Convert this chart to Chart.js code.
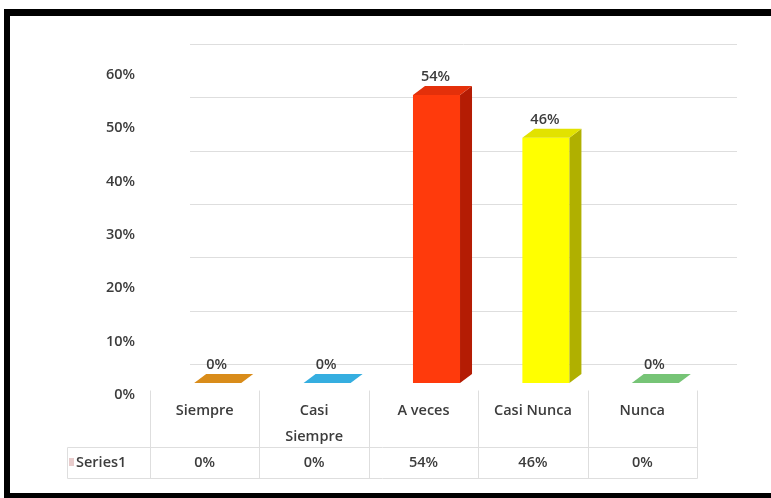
<!DOCTYPE html>
<html>
<head>
<meta charset="utf-8">
<script src="https://cdn.jsdelivr.net/npm/chart.js@4/dist/chart.umd.min.js"></script>
<style>
  html, body { margin: 0; padding: 0; background: #fff; overflow: hidden; }
  #wrap { position: relative; width: 771px; height: 498px; }
  #frame {
    position: absolute; left: 4px; top: 9px; width: 800px; height: 489px;
    box-sizing: border-box; border: solid #000;
    border-width: 7px 7px 5px 6px; pointer-events: none;
  }
</style>
</head>
<body>
<div id="wrap">
  <canvas id="chart" width="771" height="498"></canvas>
  <div id="frame"></div>
</div>
<script>
const categories = ['Siempre', ['Casi', 'Siempre'], 'A veces', 'Casi Nunca', 'Nunca'];
const values = [0, 0, 54, 46, 0];
const seriesName = 'Series1';
const yTicks = [0, 10, 20, 30, 40, 50, 60];

const frontColors = ['#D4820E', '#2CA3D6', '#FF3A0C', '#FFFF00', '#6DBE6D'];
const sideColors = ['#A86408', '#1E7FA8', '#B41C04', '#B0B000', '#4E9A4E'];
const topColors = ['#D98C1A', '#35AEE0', '#E4300A', '#E2E200', '#76C476'];

const textColor = '#3C3C3C';
const lineColor = '#DEDEDE';
const font = '600 14.5px "Open Sans"';
const depthX = 12, depthY = 9;

const pct = v => v + '%';

// extruded faces, value labels, back wall grid and the data table
const box3d = {
  id: 'box3d',
  beforeDatasetsDraw(chart) {
    const ctx = chart.ctx;
    const y = chart.scales.y;
    ctx.save();
    ctx.strokeStyle = lineColor;
    ctx.lineWidth = 1;
    yTicks.forEach(v => {
      const py = Math.round(y.getPixelForValue(v) - 19) + 0.5;
      ctx.beginPath();
      ctx.moveTo(190, py);
      ctx.lineTo(737, py);
      ctx.stroke();
    });
    ctx.restore();
  },
  afterDatasetsDraw(chart) {
    const ctx = chart.ctx;
    const meta = chart.getDatasetMeta(0);
    ctx.save();
    meta.data.forEach((bar, i) => {
      const { x, y, base, width } = bar.getProps(['x', 'y', 'base', 'width'], true);
      const l = x - width / 2, r = x + width / 2;
      // side
      if (base - y > 0.5) {
        ctx.fillStyle = sideColors[i];
        ctx.beginPath();
        ctx.moveTo(r, y);
        ctx.lineTo(r + depthX, y - depthY);
        ctx.lineTo(r + depthX, base - depthY);
        ctx.lineTo(r, base);
        ctx.closePath();
        ctx.fill();
      }
      // top
      ctx.fillStyle = topColors[i];
      ctx.beginPath();
      ctx.moveTo(l, y);
      ctx.lineTo(r, y);
      ctx.lineTo(r + depthX, y - depthY);
      ctx.lineTo(l + depthX, y - depthY);
      ctx.closePath();
      ctx.fill();

      ctx.fillStyle = textColor;
      ctx.font = font;
      ctx.textAlign = 'center';
      ctx.textBaseline = 'middle';
      ctx.fillText(pct(values[i]), x - 1, y - depthY - 9);
    });
    ctx.restore();
  },
  afterDraw(chart) {
    const ctx = chart.ctx;
    const xs = chart.scales.x;
    const half = (xs.getPixelForValue(1) - xs.getPixelForValue(0)) / 2;
    const shift = -13;
    const first = xs.getPixelForValue(0) + shift - half;
    const last = xs.getPixelForValue(categories.length - 1) + shift + half;
    const rowTop = 447, rowBot = 478, keyLeft = 67;

    ctx.save();
    ctx.strokeStyle = lineColor;
    ctx.lineWidth = 1;
    const line = (x1, y1, x2, y2) => {
      ctx.beginPath();
      ctx.moveTo(Math.round(x1) + 0.5, Math.round(y1) + 0.5);
      ctx.lineTo(Math.round(x2) + 0.5, Math.round(y2) + 0.5);
      ctx.stroke();
    };
    line(keyLeft, rowTop, last, rowTop);
    line(keyLeft, rowBot, last, rowBot);
    line(keyLeft, rowTop, keyLeft, rowBot);
    for (let i = 0; i <= categories.length; i++) {
      const px = first + i * half * 2;
      line(px, 390, px, rowBot);
    }

    ctx.fillStyle = textColor;
    ctx.font = font;
    ctx.textAlign = 'center';
    ctx.textBaseline = 'middle';
    categories.forEach((c, i) => {
      const cx = xs.getPixelForValue(i) + shift;
      const lines = Array.isArray(c) ? c : [c];
      lines.forEach((t, k) => ctx.fillText(t, cx, 411 + k * 26));
      ctx.fillText(pct(values[i]), cx, 463);
    });

    ctx.fillStyle = '#E8CCCC';
    ctx.fillRect(69, 458, 5, 8);
    ctx.fillStyle = textColor;
    ctx.textAlign = 'left';
    ctx.fillText(seriesName, 76, 463);
    ctx.restore();
  }
};

new Chart(document.getElementById('chart'), {
  type: 'bar',
  data: {
    labels: categories,
    datasets: [{
      label: seriesName,
      data: values,
      backgroundColor: frontColors,
      borderWidth: 0,
      categoryPercentage: 1,
      barPercentage: 0.43
    }]
  },
  options: {
    responsive: false,
    animation: false,
    devicePixelRatio: 1,
    layout: { padding: { top: 63, right: 61, bottom: 115, left: 0 } },
    scales: {
      x: { display: false },
      y: {
        min: 0,
        max: 60,
        afterFit(s) { s.width = 163; },
        afterBuildTicks(s) { s.ticks = yTicks.map(v => ({ value: v })); },
        grid: { display: false, drawTicks: false },
        border: { display: false },
        ticks: {
          callback: v => pct(v),
          color: textColor,
          font: { family: 'Open Sans', size: 14.5, weight: '600' },
          padding: 28,
          labelOffset: 12
        }
      }
    },
    plugins: {
      legend: { display: false },
      tooltip: { enabled: false }
    }
  },
  plugins: [box3d]
});
</script>
</body>
</html>
